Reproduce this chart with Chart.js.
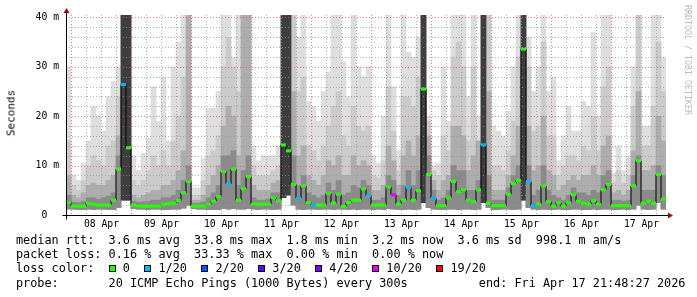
<!DOCTYPE html>
<html><head><meta charset="utf-8">
<script src="https://cdn.jsdelivr.net/npm/chart.js@4.4.1/dist/chart.umd.min.js"></script>
<style>
html,body{margin:0;padding:0;background:#fff;width:697px;height:297px;overflow:hidden}
#wrap{position:relative;width:697px;height:297px}
canvas{position:absolute;left:0;top:0}
#legend{position:absolute;left:16px;top:233px;font-family:'DejaVu Sans Mono',monospace;font-size:11.83px;line-height:14.2px;white-space:pre;color:#000}
.box{display:inline-block;width:1ch;height:7px;border:1px solid #000;box-sizing:border-box;vertical-align:0px}
#ytitle{position:absolute;left:11px;top:113px;transform:translate(-50%,-50%) rotate(-90deg);font-family:'DejaVu Sans Mono',monospace;font-size:11px;font-weight:normal;white-space:nowrap;color:#000}
#credit{position:absolute;left:683px;top:5px;writing-mode:vertical-rl;font-family:'DejaVu Sans Mono',monospace;font-size:8.3px;color:#bbb;white-space:nowrap}
</style></head>
<body><div id="wrap"><canvas id="c" width="697" height="297"></canvas>
<div id="ytitle">Seconds</div>
<div id="credit">RRDTOOL / TOBI OETIKER</div>
<div id="legend"></div></div>
<script>
// time axis: hours since Apr 7 00:00, graph starts Apr 7 21:48, 2 h per bin
const startHour = 21.8;
const endHour = 261.8;
const binHours = 2;
const dayLabels = ['08 Apr','09 Apr','10 Apr','11 Apr','12 Apr','13 Apr','14 Apr','15 Apr','16 Apr','17 Apr'];
const yTickValues = [0,2,4,6,8,10,12,14,16,18,20,22,24,26,28,30,32,34,36,38,40];
const yMax = 40.5;

// median rtt (ms) per bin
const median = [
2.5,1.8,1.8,1.8,2.4,2.2,2.0,2.0,2.0,3.0,
9.3,26.4,13.6,2.0,1.8,1.8,1.8,1.8,1.8,2.2,
2.3,2.4,2.9,4.5,6.8,1.8,1.8,1.8,2.2,2.8,
3.7,8.8,6.3,9.3,3.0,5.3,7.8,2.2,2.2,2.2,
2.2,3.5,2.9,14.2,13.0,6.2,3.4,5.9,2.5,2.0,
2.0,2.0,4.4,2.4,4.2,1.8,2.5,3.0,3.0,5.3,
3.9,2.0,2.0,2.0,5.7,4.1,2.2,3.0,5.6,3.0,
4.9,25.5,8.2,3.4,1.9,1.9,3.5,6.8,4.7,5.1,
3.0,2.7,5.1,14.2,2.4,1.9,1.9,1.9,4.2,6.4,
7.0,33.6,6.8,1.9,2.2,5.9,2.7,1.8,2.5,1.8,
2.5,4.1,2.8,2.4,2.2,2.9,2.2,5.1,6.2,1.9,
1.9,1.9,1.9,5.9,11.0,2.4,2.8,2.4,8.2,3.2];
// lost pings out of 20 per bin
const lossCount = [
0,0,0,0,0,0,0,0,0,0, 0,1,0,0,0,0,0,0,0,0,
0,0,0,0,0,0,0,0,0,0, 0,0,1,0,0,0,0,0,0,0,
0,0,0,0,0,0,1,0,0,1, 0,0,0,0,0,0,0,0,0,0,
1,0,0,0,0,10,0,0,1,0, 0,0,0,1,0,0,0,0,0,0,
0,0,0,1,0,0,0,0,0,0, 0,0,1,1,0,0,0,0,0,0,
0,0,0,0,0,0,0,0,0,0, 0,0,0,0,0,0,0,0,0,0];
// smoke: lowest ping per bin
const smokeMin = [
1.2,1.2,1.1,1.1,1.2,1.1,1.2,1.2,1.1,1.1,
1.5,3.0,3.0,1.3,1.2,1.2,1.1,1.2,1.2,1.1,
1.1,1.2,1.2,1.4,2.0,1.3,1.2,1.2,1.1,1.1,
1.1,1.3,1.2,1.3,1.2,1.2,1.3,1.2,1.1,1.2,
1.2,1.1,1.2,3.5,4.0,2.0,1.2,1.1,1.2,1.2,
1.1,1.2,1.2,1.1,1.2,1.2,1.1,1.2,1.1,1.2,
1.2,1.1,1.2,1.1,1.3,1.2,1.1,1.1,1.2,1.1,
1.2,2.5,1.5,1.2,1.1,1.1,1.2,1.2,1.1,1.2,
1.2,1.1,1.2,2.5,1.5,1.1,1.1,1.2,1.2,1.1,
1.2,3.0,1.5,1.2,1.1,1.2,1.1,1.1,1.2,1.1,
1.1,1.2,1.2,1.1,1.1,1.2,1.1,1.2,1.2,1.1,
1.1,1.2,1.1,1.2,2.0,1.2,1.1,1.2,2.5,1.2];
// smoke: top of the dark core band
const smokeCore = [
4,2.6,2.5,2.8,3.5,3.5,3.2,3.5,3.8,4.5,
12,40.5,40.5,2.8,2.6,2.7,2.8,3,3,3.5,
3.5,4,5,7,10,2.4,2.4,2.6,3.5,4.5,
6,12,12,13,6,9,12,3.5,3,3,
3.2,4.5,4.5,40.5,40.5,12,6,8,4.5,4,
3.5,4,6.5,5,7,4,4.5,6,5.5,7,
6,3,3,3.5,8,7,4,6,9,6,
9,40.5,12,5,3,3.5,5,10,9,9,
5,5,7,40.5,8,3,3,3,5.5,8,
10,40.5,10,4,5,10,5,4,3.5,3,
4,5.5,4.5,4.5,4,5,4.5,8,9,3,
3,2.8,3,8,12,5,5,5,10,8];
// smoke: top of the middle band
const smokeMid = [
8,4,3.5,4.5,6,6.5,6,6,7,8,
16,40.5,40.5,4,3.5,4,4.5,5,5,6,
6,7,9,13,40.5,3,3,4,6,8,
10,18,22,20,12,40.5,40.5,6,5,5,
5,6.5,7,40.5,40.5,25,12,14,8,7,
6,8,11,10,12,8,8,12,10,11,
10,5,5,6,14,11,6,12,15,12,
16,40.5,16,7,5,7,8,18,18,16,
9,12,15,40.5,25,5,5,5,8,12,
18,40.5,18,9,10,20,9,8,5,6,
7,8,7,8,8,10,8,14,16,4.5,
5,4,5,13,25,9,9,10,20,15];
// smoke: top of the upper band
const smokeUpper = [
15,6,5,7,10,12,11,10,14,15,
24,40.5,40.5,7,6,7,9,12,10,13,
10,15,20,28,40.5,4,4,7,12,13,
16,30,36,30,25,40.5,40.5,10,8,8,
8,9,10,40.5,40.5,40.5,25,28,14,13,
11,14,18,22,25,16,14,22,18,17,
18,8,7.5,11,26,17,9,24,24,22,
28,40.5,19,9,8,16,13,32,35,30,
15,30,15,40.5,40.5,10,10,9,13,19,
32,40.5,30,17,18,35,16,16,8,10,
12,12,11,14,13,20,13,26,30,6.5,
9,6.5,8,22,40.5,14,14,22,35,25];
// smoke: highest ping per bin (clipped at the top of the graph)
const smokeMax = [
30,8,7,10.5,15,22,20,17,24,27,
30,40.5,40.5,12,9,12.5,15.5,26,19,28,
15,30,35,40.5,40.5,5.5,5.5,11.5,21.6,21.6,
25,40.5,40.5,32,40.5,40.5,40.5,14,11,12,
12,12,14,40.5,40.5,40.5,36,40.5,23,22,
19,25,29,40.5,40.5,31,24,40.5,30,28,
30,12,10.5,20,40.5,26,13,40.5,33,32,
36,40.5,20,10,10.4,30,19,40.5,40.5,40.5,
24,40.5,20,40.5,40.5,18,17,16,21,30,
40.5,40.5,36,25,30,40.5,25,28,11,16,
22,17,17,23,22,37,20,40.5,40.5,8.5,
14,9,12,30,40.5,18,18,40.5,40.5,32];

const lossBuckets = [0,1,2,3,4,10,19];
const lossLabels = ['0','1/20','2/20','3/20','4/20','10/20','19/20'];
const lossColors = ['#26ff00','#00b8ff','#0059ff','#5e00ff','#7e00ff','#dd00ff','#ff0000'];
const rttStats = ['3.6 ms avg','33.8 ms max','1.8 ms min','3.2 ms now','3.6 ms sd','998.1 m am/s'];
const lossStats = ['0.16 % avg','33.33 % max','0.00 % min','0.00 % now'];
const probeText = '20 ICMP Echo Pings (1000 Bytes) every 300s';
const endText = 'end: Fri Apr 17 21:48:27 2026';

function binTime(i){ return startHour + binHours*(i+0.5); }
function lossColorOf(n){
  let idx = 0;
  for (let k=0;k<lossBuckets.length;k++){ if (n>=lossBuckets[k]) idx=k; }
  return lossColors[idx];
}
function band(top){ return top.map((v,i)=>({x:binTime(i), y:[smokeMin[i], v]})); }
const medianPts = median.map((v,i)=>({x:binTime(i), y:v}));

// legend
(function(){
  const sp='  ';
  const row1 = 'median rtt:  ' + rttStats.join(sp);
  const row2 = 'packet loss: ' + lossStats.join(sp);
  const items = lossLabels.map((l,k)=>'<span class="box" style="background:'+lossColors[k]+'"></span> '+l);
  const row3 = 'loss color:  ' + items.join(sp);
  const row4 = 'probe:       ' + probeText + '          ' + endText;
  document.getElementById('legend').innerHTML = [row1,row2,row3,row4].join('\n');
})();

const gridPlugin = {
  id:'rrdgrid',
  beforeDatasetDraw(chart, args){
    if (args.index !== 4) return;
    const ctx = chart.ctx, a = chart.chartArea, xs = chart.scales.x, ys = chart.scales.y;
    ctx.save();
    ctx.lineWidth = 1;
    ctx.setLineDash([1,2]);
    for (const v of yTickValues){
      if (v === 0) continue;
      const py = Math.round(ys.getPixelForValue(v)) + 0.5;
      ctx.strokeStyle = (v % 10 === 0) ? 'rgba(225,90,90,0.75)' : 'rgba(150,150,150,0.7)';
      ctx.beginPath(); ctx.moveTo(a.left, py); ctx.lineTo(a.right, py); ctx.stroke();
    }
    for (let h = Math.ceil(startHour/6)*6; h < endHour; h += 6){
      const px = Math.floor(xs.getPixelForValue(h)) + 0.5;
      ctx.strokeStyle = (h % 24 === 0) ? 'rgba(225,90,90,0.75)' : 'rgba(150,150,150,0.7)';
      ctx.beginPath(); ctx.moveTo(px, a.top); ctx.lineTo(px, a.bottom); ctx.stroke();
    }
    ctx.restore();
  }
};
const axisPlugin = {
  id:'rrdaxis',
  afterDraw(chart){
    const ctx = chart.ctx, a = chart.chartArea;
    const x0 = Math.floor(a.left) + 0.5, y0 = Math.floor(a.bottom) + 0.5;
    ctx.save();
    ctx.setLineDash([]);
    ctx.strokeStyle = '#000'; ctx.lineWidth = 1;
    ctx.beginPath(); ctx.moveTo(x0, y0 + 4); ctx.lineTo(x0, a.top - 2); ctx.stroke();
    ctx.beginPath(); ctx.moveTo(x0 - 4, y0); ctx.lineTo(a.right + 3, y0); ctx.stroke();
    ctx.fillStyle = '#8b1010';
    ctx.beginPath(); ctx.moveTo(x0 - 3, a.top - 2); ctx.lineTo(x0 + 3, a.top - 2); ctx.lineTo(x0, a.top - 7); ctx.closePath(); ctx.fill();
    ctx.beginPath(); ctx.moveTo(a.right + 2, y0 - 3); ctx.lineTo(a.right + 2, y0 + 3); ctx.lineTo(a.right + 7, y0); ctx.closePath(); ctx.fill();
    ctx.restore();
  }
};

const barCommon = {grouped:false, barPercentage:1, categoryPercentage:1, borderWidth:0};
function coreColor(c){
  const d = c.raw;
  return (d && d.y && d.y[1] >= 30) ? '#3e3e3e' : '#8a8a8a';
}
new Chart(document.getElementById('c'), {
  type:'bar',
  data:{datasets:[
    Object.assign({label:'max', data:band(smokeMax), backgroundColor:'#dedede', order:10}, barCommon),
    Object.assign({label:'upper', data:band(smokeUpper), backgroundColor:'#cbcbcb', order:9}, barCommon),
    Object.assign({label:'mid', data:band(smokeMid), backgroundColor:'#adadad', order:8}, barCommon),
    Object.assign({label:'core', data:band(smokeCore), backgroundColor:coreColor, order:7}, barCommon),
    {type:'line', label:'median', data:medianPts, borderColor:'#000', borderWidth:1, stepped:'middle', pointRadius:0, fill:false, order:2},
    {type:'line', label:'median loss', data:medianPts, showLine:false, pointStyle:'line', pointRadius:2.5, pointBorderWidth:3,
     pointBorderColor:lossCount.map(lossColorOf), pointBackgroundColor:lossCount.map(lossColorOf), order:1}
  ]},
  options:{
    responsive:false, animation:false, devicePixelRatio:1,
    layout:{padding:{left:0, right:31, top:15, bottom:0}},
    plugins:{legend:{display:false}, tooltip:{enabled:false}},
    scales:{
      x:{type:'linear', min:startHour, max:endHour, offset:false,
        grid:{display:false, drawTicks:false}, border:{display:false},
        afterBuildTicks(s){ const t=[]; for(let h=Math.ceil(startHour/6)*6; h<endHour; h+=6) t.push({value:h}); s.ticks=t; },
        ticks:{autoSkip:false, maxRotation:0, minRotation:0, padding:4, color:'#000',
          font:{family:'DejaVu Sans Mono', size:9.75},
          callback(v){ return (v % 24 === 12) ? dayLabels[(v-36)/24] : ''; }},
        afterFit(s){ s.height = 82; }},
      y:{min:0, max:yMax,
        grid:{display:false, drawTicks:false}, border:{display:false},
        afterBuildTicks(s){ s.ticks = yTickValues.map(v=>({value:v})); },
        ticks:{autoSkip:false, padding:7, color:'#000', font:{family:'DejaVu Sans Mono', size:9.75},
          callback(v){ return v === 0 ? '0  ' : (v % 10 === 0 ? v + ' m' : ''); }},
        afterFit(s){ s.width = 66; }}
    }
  },
  plugins:[gridPlugin, axisPlugin]
});
</script></body></html>
